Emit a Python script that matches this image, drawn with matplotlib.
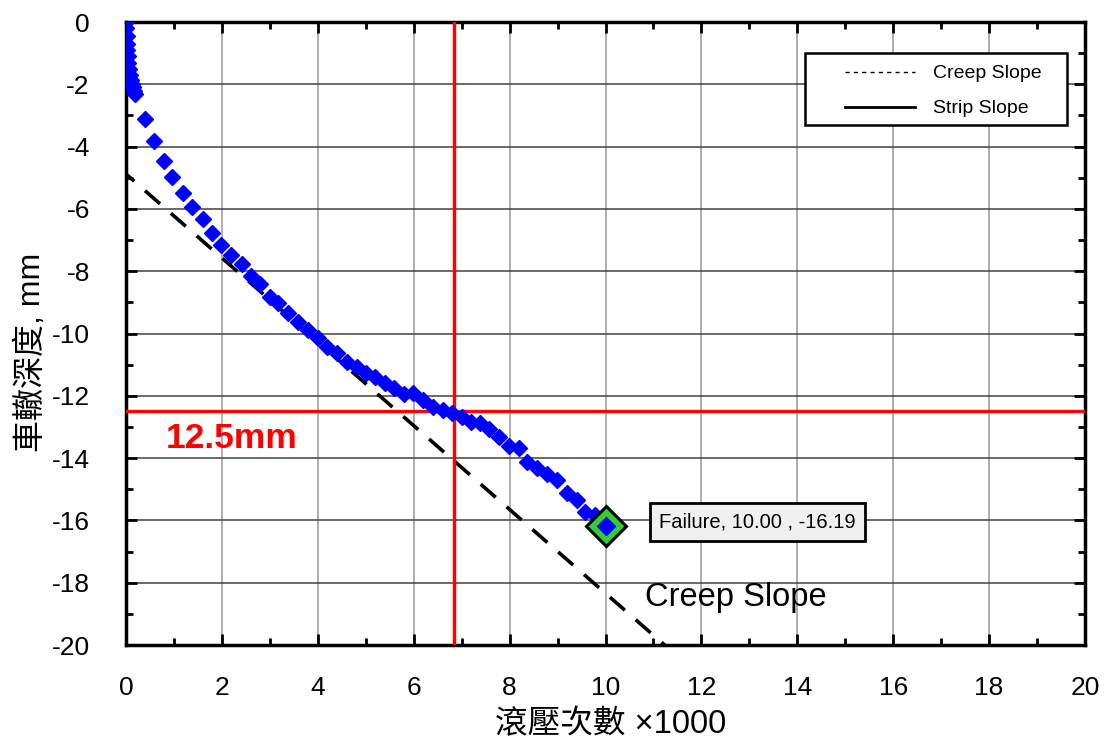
import numpy as np
import matplotlib
matplotlib.use("Agg")
import matplotlib.pyplot as plt
from matplotlib.lines import Line2D
from matplotlib.patches import Rectangle
from matplotlib.ticker import MultipleLocator

plt.rcParams['font.family'] = ['Liberation Sans', 'Noto Sans CJK TC', 'DejaVu Sans']
plt.rcParams['axes.unicode_minus'] = False

# rut depth data (passes x1000, mm)
passes = [0.00, 0.01, 0.02, 0.02, 0.03, 0.04, 0.05, 0.06, 0.08, 0.10, 0.12, 0.14, 0.17, 0.19,
          0.40, 0.59, 0.80, 0.97, 1.18, 1.38, 1.60, 1.80, 1.98, 2.19, 2.41, 2.60, 2.79,
          3.00, 3.17, 3.38, 3.59, 3.80, 4.00, 4.19, 4.40, 4.61, 4.82, 5.00, 5.19, 5.40,
          5.59, 5.80, 5.99, 6.19, 6.40, 6.61, 6.80, 7.00, 7.20, 7.38, 7.58, 7.78, 7.99,
          8.20, 8.36, 8.57, 8.78, 8.99, 9.20, 9.40, 9.57, 9.78, 9.95, 10.00]
rut = [0.00, -0.20, -0.45, -0.70, -0.90, -1.10, -1.30, -1.50, -1.70, -1.85, -2.00, -2.10, -2.20, -2.30,
       -3.12, -3.81, -4.45, -4.99, -5.48, -5.95, -6.33, -6.78, -7.16, -7.48, -7.78, -8.15, -8.40,
       -8.83, -9.02, -9.34, -9.63, -9.89, -10.14, -10.43, -10.63, -10.91, -11.08, -11.27, -11.40, -11.59,
       -11.75, -11.94, -11.91, -12.13, -12.35, -12.44, -12.55, -12.68, -12.83, -12.88, -13.05, -13.32, -13.61,
       -13.66, -14.12, -14.32, -14.51, -14.70, -15.12, -15.35, -15.73, -15.83, -16.05, -16.19]

# creep slope line end points
creep_x = [0.0, 13.0]
creep_y = [-4.88, -4.88 - 1.346 * 13.0]

failure_x, failure_y = 10.00, -16.19
limit_depth = -12.5
limit_passes = 6.84

fig = plt.figure(figsize=(11.1, 7.47), dpi=100)
ax = fig.add_axes([0.1135, 0.1365, 0.864, 0.834])

ax.set_xlim(0, 20)
ax.set_ylim(-20, 0)
ax.xaxis.set_major_locator(MultipleLocator(2))
ax.xaxis.set_minor_locator(MultipleLocator(1))
ax.yaxis.set_major_locator(MultipleLocator(2))
ax.yaxis.set_minor_locator(MultipleLocator(1))

ax.grid(True, axis='x', which='major', color='#999999', lw=1.1)
ax.grid(True, axis='y', which='major', color='#404040', lw=1.1)
ax.set_axisbelow(True)

ax.plot(creep_x, creep_y, color='black', lw=2.6, ls=(2.5, (5.5, 4)), zorder=3)
ax.axvline(limit_passes, color='red', lw=2.4, zorder=4)
ax.axhline(limit_depth, color='red', lw=2.4, zorder=4)

ax.plot(passes, rut, ls='none', marker='D', ms=8, color='blue', mec='blue', zorder=5)
ax.plot([failure_x], [failure_y], ls='none', marker='D', ms=20, mfc='#33cc33', mec='black',
        mew=2.2, zorder=6)
ax.plot([failure_x], [failure_y], ls='none', marker='D', ms=9, color='blue', zorder=7)

ax.text(2.21, -13.36, '12.5mm', color='red', fontsize=25.5, fontweight='bold',
        ha='center', va='center', zorder=8)
ax.text(10.82, -18.49, 'Creep Slope', fontsize=23.5, ha='left', va='center', zorder=8)
ax.text(13.17, -16.05, 'Failure, 10.00 , -16.19', fontsize=14.5, ha='center', va='center',
        zorder=8, bbox=dict(boxstyle='square,pad=0.45', fc='#f0f0f0', ec='black', lw=2))

# legend frame drawn separately so the padding matches
ax.add_patch(Rectangle((0.708, 0.8347), 0.2732, 0.1156, transform=ax.transAxes,
                       fc='white', ec='black', lw=1.8, zorder=9))
handles = [Line2D([], [], color='black', lw=1, dashes=(3, 3)),
           Line2D([], [], color='black', lw=2)]
leg = ax.legend(handles, ['Creep Slope', 'Strip Slope'], loc='upper right',
                bbox_to_anchor=(0.9645, 0.947), fontsize=14, handlelength=3.6,
                handletextpad=0.9, borderpad=0.5, labelspacing=0.9, frameon=False,
                borderaxespad=0)
leg.set_zorder(10)

for s in ax.spines.values():
    s.set_linewidth(2.5)
ax.tick_params(which='both', direction='in', top=True, right=True, width=2)
ax.tick_params(which='major', length=8, labelsize=19)
ax.tick_params(which='minor', length=5)
ax.tick_params(axis='x', which='major', pad=22)
ax.tick_params(axis='y', which='major', pad=26)

ax.set_xlabel('滾壓次數 ×1000', fontsize=23.5)
ax.set_ylabel('車轍深度, mm', fontsize=23)
ax.xaxis.set_label_coords(0.505, -0.103)
ax.yaxis.set_label_coords(-0.082, 0.47)

fig.savefig('out.png', dpi=100)
